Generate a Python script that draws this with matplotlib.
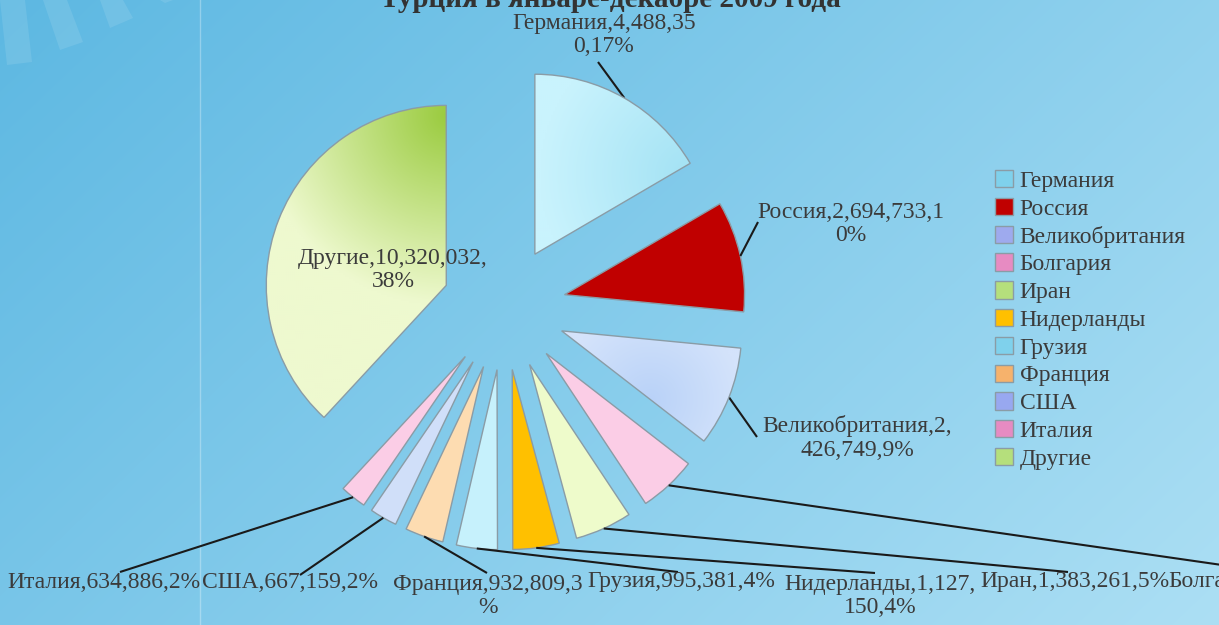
import numpy as np
import matplotlib.pyplot as plt
from matplotlib.patches import Patch, Polygon
from matplotlib.colors import to_rgb

W, H = 1219, 625

# data (arrivals, Jan-Dec 2009)
countries = ['Германия', 'Россия', 'Великобритания', 'Болгария', 'Иран',
             'Нидерланды', 'Грузия', 'Франция', 'США', 'Италия', 'Другие']
visitors = [4488350, 2694733, 2426749, 1406604, 1383261,
            1127150, 995381, 932809, 667159, 634886, 10320032]
shares = [17, 10, 9, 5, 5, 4, 4, 3, 2, 2, 38]
title = 'Турция в январе-декабре 2009 года'

# label text as it is wrapped on the chart
label_texts = ['Германия,4,488,35\n0,17%', 'Россия,2,694,733,1\n0%',
               'Великобритания,2,\n426,749,9%', 'Болгария,1,406,604,5%',
               'Иран,1,383,261,5%', 'Нидерланды,1,127,\n150,4%',
               'Грузия,995,381,4%', 'Франция,932,809,3\n%',
               'США,667,159,2%', 'Италия,634,886,2%',
               'Другие,10,320,032,\n38%']

# styling
slice_colors = ['#c6f1fc', '#c00000', '#cfe0fa', '#fbcde6', '#eefbcb',
                '#ffc000', '#c6f1fc', '#fddcb1', '#d0dff9', '#fbcde6', '#eef9cf']
legend_colors = ['#7fd1ec', '#c00000', '#9eaaee', '#e78bc2', '#b5df7c',
                 '#ffc000', '#7fd1ec', '#f6b26c', '#98a8f0', '#e68bc2', '#b5df7c']
label_xy = [(604, 35), (851, 224), (857, 438), (1168, 582), (1075, 582),
            (880, 596), (681, 582), (488, 596), (290, 582), (104, 582), (393, 270)]
leader_end = [(598, 62), (758, 222), (757, 437), (1222, 565), (1068, 572),
              (875, 573), (678, 572), (487, 573), (300, 575), (120, 572), None]

PIE_C = (504, H - 308)
PIE_R = 180
EXPL = 62
FONT = 'Liberation Serif'
TXT = '#3b3b3b'

fig = plt.figure(figsize=(W / 100, H / 100), dpi=100)
ax = fig.add_axes([0, 0, 1, 1])
ax.set_axis_off()

# background gradient (darker top-left, lighter bottom-right)
yy, xx = np.mgrid[0:H, 0:W]
t = (xx / W * 0.65 + yy / H * 0.35)
c0, c1 = np.array(to_rgb('#5db8e2')), np.array(to_rgb('#acdff4'))
bg = c0 + (c1 - c0) * t[..., None]
ax.imshow(bg, extent=(0, W, 0, H), zorder=0, origin='upper')
ax.axvline(200, color='white', alpha=0.3, lw=1, zorder=0.5)
for quad in [[(0, 0), (25, 0), (32, 62), (7, 65)],
             [(43, 0), (67, 0), (83, 42), (60, 50)],
             [(100, 0), (123, 0), (133, 18), (110, 28)],
             [(160, 0), (173, 0), (165, 3)]]:
    ax.add_patch(Polygon([(x, H - y) for x, y in quad], closed=True,
                         facecolor='white', alpha=0.1, lw=0, zorder=0.6))

wedges, _ = ax.pie(visitors, explode=[EXPL] * len(visitors), radius=PIE_R,
                   center=PIE_C, startangle=90, counterclock=False,
                   colors=slice_colors, frame=True,
                   wedgeprops=dict(edgecolor='#8a9ca6', linewidth=1))


def gradient_fill(w, c_dark, c_light, corner, spread):
    x0, y0, x1, y1 = 0, 0, W, H
    gy, gx = np.mgrid[y0:y1:2, x0:x1:2]
    d = np.hypot(gx - corner[0], gy - corner[1]) / spread
    d = np.clip(d, 0, 1)[..., None]
    a, b = np.array(to_rgb(c_dark)), np.array(to_rgb(c_light))
    img = a + (b - a) * d
    im = ax.imshow(img, extent=(x0, x1, y0, y1), origin='lower', zorder=1.5)
    im.set_clip_path(w)
    w.set_facecolor('none')
    w.set_zorder(2)


gradient_fill(wedges[-1], '#9acb3e', '#eef9cf', (448, H - 115), 190)
gradient_fill(wedges[0], '#a3e2f4', '#c9f3fd', (690, H - 175), 150)
gradient_fill(wedges[2], '#b9d2f8', '#d4e3fb', (650, H - 400), 90)

# leader lines from the outer middle of each wedge
for w, end in zip(wedges, leader_end):
    if end is None:
        continue
    ang = np.deg2rad((w.theta1 + w.theta2) / 2)
    cx, cy = w.center
    sx = cx + w.r * np.cos(ang)
    sy = cy + w.r * np.sin(ang)
    ax.plot([sx, end[0]], [sy, H - end[1]], color='#1a1a1a', lw=1.5,
            zorder=1, solid_capstyle='butt')

for txt, (x, y) in zip(label_texts, label_xy):
    ha = 'left' if txt.startswith('Болгария') else 'center'
    ax.text(x, H - y, txt, ha=ha, va='center', family=FONT, fontsize=17,
            color=TXT, linespacing=1.15, zorder=3)

ax.text(610, H - 7, title, ha='center', va='baseline', family=FONT,
        fontsize=21, fontweight='bold', color='#333333', zorder=3)

handles = [Patch(facecolor=c, edgecolor='#8a9ca6', lw=1) for c in legend_colors]
ax.legend(handles, countries, loc='upper left',
          bbox_to_anchor=(995 / W, 1 - 170 / H), bbox_transform=fig.transFigure,
          frameon=False, prop=dict(family=FONT, size=17), labelcolor=TXT,
          handlelength=0.75, handleheight=0.75, handletextpad=0.3,
          labelspacing=0.25, borderpad=0, borderaxespad=0)

ax.set_xlim(0, W)
ax.set_ylim(0, H)
ax.set_aspect('auto')
fig.savefig('out.png', dpi=100)
